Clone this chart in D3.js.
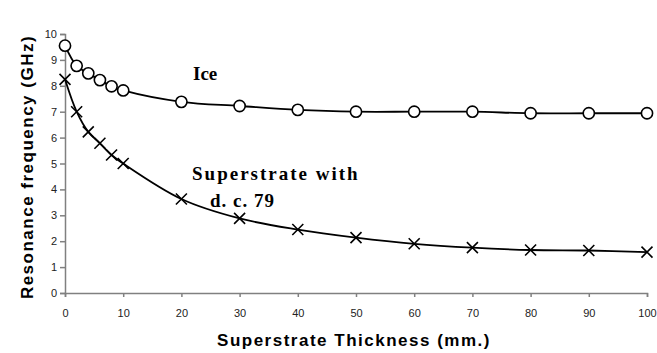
<!DOCTYPE html>
<html>
<head>
<meta charset="utf-8">
<script src="https://cdn.jsdelivr.net/npm/d3@7"></script>
<style>
    body { margin: 0; background: #fff; }
    svg { display: block; }
</style>
</head>
<body>
<svg id="svg-main" width="657" height="353"></svg>
<script>
var thickness = [0, 2, 4, 6, 8, 10, 20, 30, 40, 50, 60, 70, 80, 90, 100];
var iceFreq = [9.55, 8.77, 8.48, 8.22, 7.98, 7.82, 7.38, 7.22, 7.07, 7.0, 7.0, 7.0, 6.94, 6.94, 6.94];
var superFreq = [8.25, 7.0, 6.22, 5.78, 5.33, 5.0, 3.63, 2.88, 2.45, 2.14, 1.9, 1.75, 1.66, 1.64, 1.58];
var xTicks = [0, 10, 20, 30, 40, 50, 60, 70, 80, 90, 100];
var yTicks = [0, 1, 2, 3, 4, 5, 6, 7, 8, 9, 10];

window.onload = function () {
    var svg = d3.select("svg");

    var x = d3.scaleLinear().domain([0, 100]).range([65, 647]);
    var y = d3.scaleLinear().domain([0, 10]).range([293, 34]);

    // axes
    var xAxis = svg.append("g")
        .attr("transform", "translate(0,293)")
        .call(d3.axisBottom(x).tickValues(xTicks).tickSize(4).tickPadding(12));
    var yAxis = svg.append("g")
        .attr("transform", "translate(65,0)")
        .call(d3.axisLeft(y).tickValues(yTicks).tickSize(5).tickPadding(3));

    [xAxis, yAxis].forEach(function (a) {
        a.select(".domain").attr("stroke", "#808080").attr("stroke-width", 1.5);
        a.selectAll(".tick line").attr("stroke", "#808080").attr("stroke-width", 1.5);
        a.selectAll(".tick text")
            .attr("fill", "#222")
            .style("font-family", "'Liberation Sans', Arial, sans-serif")
            .style("font-size", "11px");
    });

    var ice = thickness.map(function (d, i) { return {x: d, y: iceFreq[i]}; });
    var sup = thickness.map(function (d, i) { return {x: d, y: superFreq[i]}; });

    var line = d3.line()
        .x(function (d) { return x(d.x); })
        .y(function (d) { return y(d.y); })
        .curve(d3.curveCatmullRom.alpha(0.5));

    svg.append("path").datum(sup)
        .attr("d", line)
        .attr("fill", "none")
        .attr("stroke", "#000")
        .attr("stroke-width", 1.8);

    svg.append("path").datum(ice)
        .attr("d", line)
        .attr("fill", "none")
        .attr("stroke", "#000")
        .attr("stroke-width", 1.8);

    // cross markers
    var s = 5.5;
    svg.append("g").selectAll("path")
        .data(sup)
        .enter().append("path")
        .attr("d", function (d) {
            var cx = x(d.x), cy = y(d.y);
            return "M" + (cx - s) + "," + (cy - s) + "L" + (cx + s) + "," + (cy + s) +
                "M" + (cx - s) + "," + (cy + s) + "L" + (cx + s) + "," + (cy - s);
        })
        .attr("stroke", "#000")
        .attr("stroke-width", 1.6);

    // circle markers
    svg.append("g").selectAll("circle")
        .data(ice)
        .enter().append("circle")
        .attr("cx", function (d) { return x(d.x); })
        .attr("cy", function (d) { return y(d.y); })
        .attr("r", 5.6)
        .attr("fill", "#fff")
        .attr("stroke", "#000")
        .attr("stroke-width", 1.6);

    // axis titles
    svg.append("text")
        .attr("x", 354)
        .attr("y", 346)
        .attr("text-anchor", "middle")
        .style("font-family", "'Liberation Sans', Arial, sans-serif")
        .style("font-weight", "bold")
        .style("font-size", "17px")
        .style("letter-spacing", "1.5px")
        .text("Superstrate Thickness (mm.)");

    svg.append("text")
        .attr("transform", "translate(33,167) rotate(-90)")
        .attr("text-anchor", "middle")
        .style("font-family", "'Liberation Sans', Arial, sans-serif")
        .style("font-weight", "bold")
        .style("font-size", "17px")
        .style("letter-spacing", "1.5px")
        .text("Resonance frequency (GHz)");

    // annotations
    var serif = "'Liberation Serif', 'Times New Roman', serif";
    svg.append("text")
        .attr("x", 193).attr("y", 80)
        .style("font-family", serif)
        .style("font-weight", "bold")
        .style("font-size", "19px")
        .text("Ice");
    svg.append("text")
        .attr("x", 192).attr("y", 180)
        .style("font-family", serif)
        .style("font-weight", "bold")
        .style("font-size", "19px")
        .style("letter-spacing", "2px")
        .text("Superstrate with");
    svg.append("text")
        .attr("x", 210).attr("y", 207)
        .style("font-family", serif)
        .style("font-weight", "bold")
        .style("font-size", "19px")
        .style("letter-spacing", "1px")
        .text("d. c. 79");
};
</script>
</body>
</html>
